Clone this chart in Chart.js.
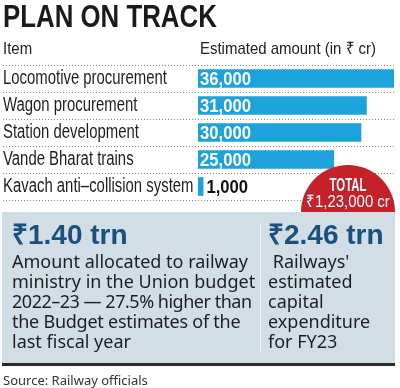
<!DOCTYPE html>
<html>
<head>
<meta charset="utf-8">
<script src="https://cdn.jsdelivr.net/npm/chart.js@4.4.1/dist/chart.umd.min.js"></script>
<style>
  html,body{margin:0;padding:0;background:#fff;}
  #wrap{position:relative;width:400px;height:388px;overflow:hidden;background:#fff;}
  .abs{position:absolute;white-space:nowrap;}
  .lib{font-family:"Liberation Sans",Arial,sans-serif;}
  #title{left:3px;top:1px;font-size:31.5px;line-height:31.5px;font-weight:bold;color:#1a1a1a;transform:scaleX(0.82);transform-origin:0 0;}
  .hdr{top:40px;font-size:17px;line-height:17px;color:#222;transform:scaleX(0.88);transform-origin:0 0;}
  #chartBox{position:absolute;left:0;top:0;width:400px;height:212px;}
  #circleClip{position:absolute;left:0;top:0;width:400px;height:212px;overflow:hidden;pointer-events:none;}
  #circle{position:absolute;left:301px;top:165px;width:94px;height:94px;border-radius:50%;background:#c4212b;}
  .ctext{position:absolute;left:248px;width:200px;text-align:center;color:#fff;transform-origin:50% 0;}
  #panel{position:absolute;left:2px;top:212px;width:393px;height:151px;background:#d2dee6;border-bottom:3px solid #2a2a2a;}
  .big{font-family:"Liberation Sans",Arial,sans-serif;font-weight:bold;font-size:28px;line-height:28px;color:#1b4f7c;top:9px;}
  .body{font-family:"Noto Sans",sans-serif;font-size:18px;line-height:20px;color:#1e1e1e;top:39px;}
  #divider{position:absolute;left:258px;top:13px;width:1px;height:127px;background:#eef3f6;}
  #source{left:3px;top:372px;font-family:"Noto Sans",sans-serif;font-size:13px;line-height:16px;color:#333;}
</style>
</head>
<body>
<div id="wrap">
  <div id="chartBox"><canvas id="c" width="400" height="212"></canvas></div>
  <div id="circleClip">
    <div id="circle"></div>
    <div class="ctext lib" style="top:176px;font-weight:bold;font-size:18px;line-height:18px;transform:scaleX(0.63);">TOTAL</div>
    <div class="ctext lib" style="top:193px;font-size:17px;line-height:17px;transform:scaleX(0.88);">₹1,23,000 cr</div>
  </div>
  <div id="title" class="abs lib">PLAN ON TRACK</div>
  <div class="abs hdr lib" style="left:3px;">Item</div>
  <div class="abs hdr lib" style="left:200px;">Estimated amount (in ₹ cr)</div>
  <div id="panel">
    <div class="abs big" style="left:10px;">₹1.40 trn</div>
    <div class="abs body" style="left:10px;">Amount allocated to railway<br>ministry in the Union budget<br><span style="letter-spacing:-0.48px;">2022–23 — 27.5% higher than</span><br><span style="letter-spacing:-0.25px;">the Budget estimates of the</span><br>last fiscal year</div>
    <div id="divider"></div>
    <div class="abs big" style="left:266px;">₹2.46 trn</div>
    <div class="abs body" style="left:266px;">&nbsp;Railways'<br>estimated<br>capital<br>expenditure<br>for FY23</div>
  </div>
  <div id="source" class="abs">Source: Railway officials</div>
</div>
<script>
const categories = ['Locomotive procurement','Wagon procurement','Station development','Vande Bharat trains','Kavach anti–collision system'];
const amounts = [36000, 31000, 30000, 25000, 1000];

const FONT = '"Liberation Sans",Arial,sans-serif';
const LABEL_SQUEEZE = 0.745;
const VALUE_SQUEEZE = 0.9;

// Condense the y-axis tick labels drawn by the library (horizontal squeeze)
const squeezeLabels = {
  id: 'squeezeLabels',
  afterLayout(chart) {
    const s = chart.scales.y;
    if (s._squeezed) return;
    s._squeezed = true;
    s._computeLabelArea = function () { return undefined; };
    const orig = s.drawLabels.bind(s);
    s.drawLabels = function (area) {
      const ctx = this.ctx;
      ctx.save();
      ctx.translate(this.left, 0);
      ctx.scale(LABEL_SQUEEZE, 1);
      ctx.translate(-this.left, 0);
      orig(area);
      ctx.restore();
    };
  }
};

const valueLabelPlugin = {
  id: 'valueLabels',
  afterDatasetsDraw(chart) {
    const ctx = chart.ctx;
    const meta = chart.getDatasetMeta(0);
    ctx.save();
    ctx.font = 'bold 18.5px ' + FONT;
    ctx.textBaseline = 'middle';
    ctx.textAlign = 'left';
    meta.data.forEach((bar, i) => {
      const w = bar.x - bar.base;
      const inside = w > 60;
      const x0 = inside ? bar.base + 2 : bar.x + 3;
      ctx.fillStyle = inside ? '#ffffff' : '#111111';
      ctx.save();
      ctx.translate(x0, bar.y + 1);
      ctx.scale(VALUE_SQUEEZE, 1);
      ctx.fillText(amounts[i].toLocaleString('en-IN'), 0, 0);
      ctx.restore();
    });
    ctx.restore();
  }
};

new Chart(document.getElementById('c'), {
  type: 'bar',
  data: {
    labels: categories,
    datasets: [{
      data: amounts,
      backgroundColor: '#1ea2dc',
      borderWidth: 0,
      categoryPercentage: 1,
      barPercentage: 0.69
    }]
  },
  options: {
    indexAxis: 'y',
    responsive: false,
    animation: false,
    devicePixelRatio: 1,
    layout: { padding: { top: 65, left: 3, right: 6, bottom: 0 } },
    plugins: { legend: { display: false }, tooltip: { enabled: false } },
    scales: {
      x: { display: false, min: 0, max: 36000 },
      y: {
        afterFit(s) { s.width = 195; },
        border: { display: false, dash: [1, 2] },
        grid: {
          offset: true,
          color: '#8a8a8a',
          lineWidth: 1,
          drawTicks: true,
          tickLength: 195,
          tickColor: '#8a8a8a',
          tickBorderDash: [1, 2]
        },
        ticks: {
          crossAlign: 'far',
          padding: 0,
          autoSkip: false,
          color: '#1e1e1e',
          font: { family: FONT, size: 20 }
        }
      }
    }
  },
  plugins: [squeezeLabels, valueLabelPlugin]
});
</script>
</body>
</html>
